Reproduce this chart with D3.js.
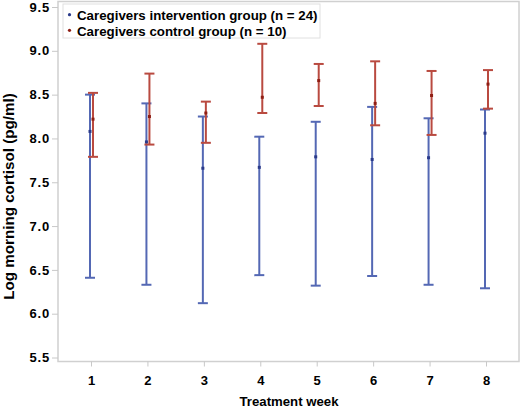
<!DOCTYPE html>
<html><head><meta charset="utf-8">
<script src="https://cdn.jsdelivr.net/npm/d3@7"></script>
<style>body{margin:0;background:#fff}svg{display:block}text{font-family:"Liberation Sans",Arial,sans-serif;font-weight:bold;fill:#000}</style>
</head><body><svg id="c" width="520" height="408"></svg>
<script>
const weeks = [1,2,3,4,5,6,7,8];
const interventionMean  = [8.08, 7.96, 7.66, 7.67, 7.79, 7.76, 7.78, 8.06];
const interventionUpper = [8.50, 8.40, 8.25, 8.02, 8.19, 8.36, 8.23, 8.33];
const interventionLower = [6.41, 6.33, 6.12, 6.44, 6.32, 6.43, 6.33, 6.29];
const controlMean  = [8.22, 8.25, 8.29, 8.47, 8.66, 8.40, 8.49, 8.62];
const controlUpper = [8.52, 8.74, 8.42, 9.08, 8.85, 8.88, 8.77, 8.78];
const controlLower = [7.79, 7.93, 7.95, 8.29, 8.37, 8.15, 8.04, 8.34];
const yTicks = [5.5,6.0,6.5,7.0,7.5,8.0,8.5,9.0,9.5];
const legendLabels = ["Caregivers intervention group (n = 24)","Caregivers control group (n = 10)"];

const blue = "#5468b4", red = "#b94a40";
const blueDot = "#2a3a8a", redDot = "#8e1e14";
const svg = d3.select("#c");
const L = 58, R = 519, T = 1.5, B = 361.5;
const x = d3.scaleLinear().domain([0.415, 8.585]).range([L, R]);
const y = d3.scaleLinear().domain([5.5, 9.5]).range([357.5, 7]);

// frame
svg.append("rect").attr("x", L).attr("y", T).attr("width", R - L).attr("height", B - T)
  .attr("fill", "none").attr("stroke", "#d0d0d0").attr("stroke-width", 1.5);

// y axis
const ya = svg.append("g").attr("transform", `translate(${L},0)`)
  .call(d3.axisLeft(y).tickValues(yTicks).tickFormat(d3.format(".1f")).tickSize(6).tickPadding(2));
ya.select(".domain").remove();
ya.selectAll("line").attr("stroke", "#c8c8c8");
ya.selectAll("text").attr("font-size", 13).attr("letter-spacing", "0.8px").attr("font-family", "Liberation Sans, Arial").attr("font-weight", "bold").attr("fill", "#000");

// x axis
const xa = svg.append("g").attr("transform", `translate(0,${B})`)
  .call(d3.axisBottom(x).tickValues(weeks).tickFormat(d3.format("d")).tickSize(5).tickPadding(9));
xa.select(".domain").remove();
xa.selectAll("line").attr("stroke", "#c8c8c8");
xa.selectAll("text").attr("font-size", 13).attr("font-family", "Liberation Sans, Arial").attr("font-weight", "bold").attr("fill", "#000");

// axis titles
svg.append("text").attr("x", 289).attr("y", 406).attr("text-anchor", "middle")
  .attr("font-size", 13.2).text("Treatment week");
svg.append("text").attr("transform", `translate(14,196.5) rotate(-90)`).attr("text-anchor", "middle")
  .attr("font-size", 15.2).text("Log morning cortisol (pg/ml)");

function drawSeries(mean, up, lo, off, col, dotCol) {
  const g = svg.append("g");
  weeks.forEach((w, i) => {
    const cx = x(w) + off;
    g.append("line").attr("x1", cx).attr("x2", cx).attr("y1", y(up[i])).attr("y2", y(lo[i]))
      .attr("stroke", col).attr("stroke-width", 2);
    [up[i], lo[i]].forEach(v => g.append("line").attr("x1", cx - 5).attr("x2", cx + 5)
      .attr("y1", y(v)).attr("y2", y(v)).attr("stroke", col).attr("stroke-width", 2));
    g.append("rect").attr("x", cx - 1.5).attr("y", y(mean[i]) - 1.5).attr("width", 3).attr("height", 3)
      .attr("fill", dotCol);
  });
}
drawSeries(interventionMean, interventionUpper, interventionLower, -1, blue, blueDot);
drawSeries(controlMean, controlUpper, controlLower, 2, red, redDot);

// legend
const lg = svg.append("g");
lg.append("rect").attr("x", 63).attr("y", 4).attr("width", 257).attr("height", 34)
  .attr("fill", "#fff").attr("stroke", "#e0e0e0");
[blueDot, redDot].forEach((c, i) => {
  lg.append("circle").attr("cx", 69.5).attr("cy", 14.7 + i * 15.6).attr("r", 1.6).attr("fill", c);
  lg.append("text").attr("x", 77).attr("y", 20 + i * 15.5).attr("font-size", 13.3).text(legendLabels[i]);
});
</script></body></html>
